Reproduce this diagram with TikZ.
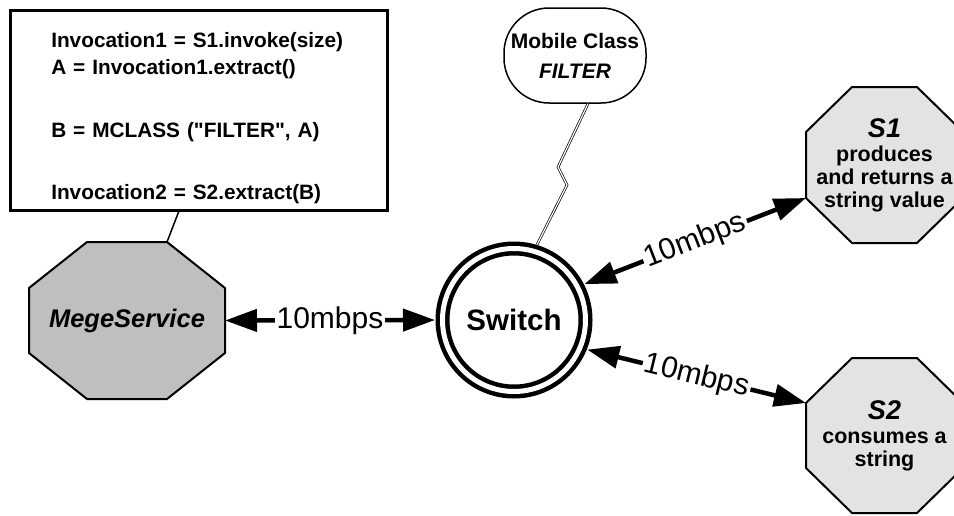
\documentclass[tikz,border=0pt]{standalone}
\usepackage{fontspec}
\setmainfont{Liberation Sans}
\usetikzlibrary{arrows.meta,backgrounds}

\colorlet{msfill}{black!25}
\colorlet{svfill}{black!11}
\newcommand{\octapath}[3]{([xshift=#2]#1.north west) -- ([xshift=-#2]#1.north east) -- ([yshift=-#3]#1.north east) -- ([yshift=#3]#1.south east) -- ([xshift=-#2]#1.south east) -- ([xshift=#2]#1.south west) -- ([yshift=#3]#1.south west) -- ([yshift=-#3]#1.north west) -- cycle}

\begin{document}
\begin{tikzpicture}[x=1pt, y=-1pt,
        octa/.style={minimum width=157pt, minimum height=156pt, inner sep=0pt, outer sep=0pt, align=center, font=\bfseries\fontsize{21.5}{23}\selectfont},
        link/.style={line width=4.5pt, >={Triangle[length=32pt,width=22pt]}, <->},
        rate/.style={fill=white, inner sep=2pt, font=\fontsize{30}{32}\selectfont}]
        \useasboundingbox (0,0) rectangle (954,515);

        \node (code) [draw, line width=2.5pt, anchor=north west, text width=295pt, inner xsep=41pt, minimum height=200pt, align=left, font=\bfseries\fontsize{20.8}{27}\selectfont] at (9,9) {\rule{0pt}{31pt}Invocation1 = S1.invoke(size)\\
                A = Invocation1.extract()\\[36pt]
                B = MCLASS (\textquotedbl FILTER\textquotedbl, A)\\[35pt]
                Invocation2 = S2.extract(B)};

        \node (ms) [octa, minimum width=196pt, minimum height=157pt, font=\bfseries\itshape\fontsize{25.5}{27}\selectfont] at (127,320.5) {MegeService};
        \node (sw) [circle, draw, double, line width=4.5pt, double distance=5pt, minimum size=143pt, inner sep=0pt, outer sep=7.5pt, font=\bfseries\fontsize{29.5}{32}\selectfont] at (514,320) {Switch};
        \node (mc) [draw, line width=1.5pt, rounded corners=45pt, minimum width=142pt, minimum height=95pt, align=center, font=\bfseries\fontsize{21}{30}\selectfont] at (575,55.5) {Mobile Class\\ \textit{FILTER}};
        \node (s1) [octa] at (884.5,165) {{\itshape\fontsize{27}{30}\selectfont S1}\\[1pt] produces\\ and returns a\\ string value};
        \node (s2) [octa, minimum height=155pt] at (884.5,435.5) {{\itshape\fontsize{27}{30}\selectfont S2}\\[1pt] consumes a\\ string};

        \coordinate (z1) at (558,167);
        \coordinate (z2) at (567,185);

        \draw [line width=1.5pt] ([xshift=-20pt]code.south) -- ([xshift=40pt]ms.north);
        \draw [double, line width=0.7pt, double distance=1.2pt] ([xshift=13pt]mc.south) -- (z1) -- (z2) -- (sw.73);
        \draw [link] (ms.east) -- node [rate] {10mbps} (sw.west);
        \draw [link] (sw.27.5) -- node [rate, sloped] {10mbps} ([yshift=-33pt]s1.west);
        \draw [link] (sw.-22) -- node [rate, sloped] {10mbps} ([yshift=32.5pt]s2.west);

        \begin{scope}[on background layer]
                \filldraw [fill=msfill, line width=2pt] \octapath{ms}{58pt}{46pt};
                \filldraw [fill=svfill, line width=2pt] \octapath{s1}{46pt}{45pt};
                \filldraw [fill=svfill, line width=2pt] \octapath{s2}{46pt}{45pt};
        \end{scope}
\end{tikzpicture}
\end{document}
